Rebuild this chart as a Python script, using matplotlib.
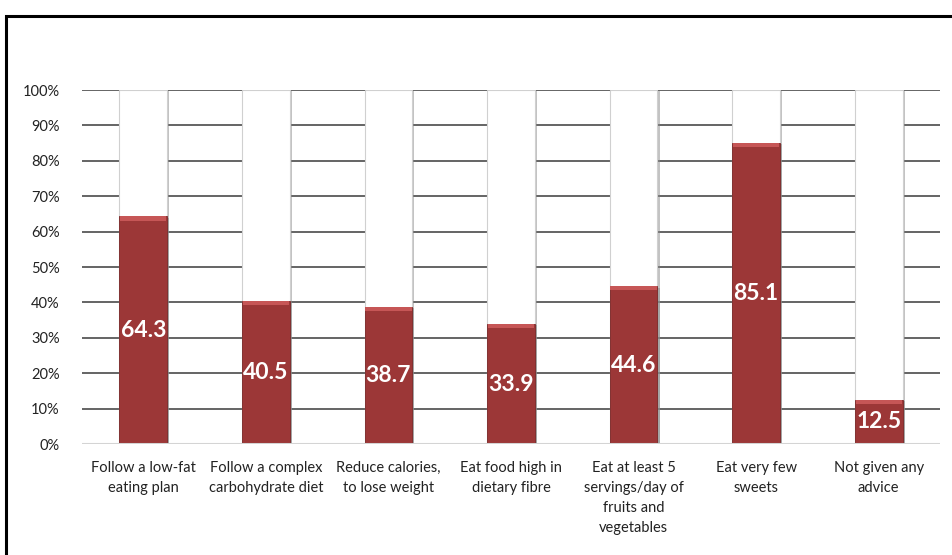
import numpy as np
import matplotlib
matplotlib.use("Agg")
import matplotlib.pyplot as plt
import matplotlib.patheffects as pe
from matplotlib.patches import Rectangle

categories = ["Follow a low-fat\neating plan",
              "Follow a complex\ncarbohydrate diet",
              "Reduce calories,\nto lose weight",
              "Eat food high in\ndietary fibre",
              "Eat at least 5\nservings/day of\nfruits and\nvegetables",
              "Eat very few\nsweets",
              "Not given any\nadvice"]
values = [64.3, 40.5, 38.7, 33.9, 44.6, 85.1, 12.5]
full = [100] * len(values)
yticks = [0, 10, 20, 30, 40, 50, 60, 70, 80, 90, 100]

plt.rcParams['font.family'] = ['Lato', 'DejaVu Sans']

fig = plt.figure(figsize=(9.52, 5.55), dpi=100)
ax = fig.add_axes([0.0861, 0.2, 0.9013, 0.6378])

x = np.arange(len(values))
w = 0.39

# grid lines behind the bars
for t in yticks[1:]:
    ax.axhline(t, color='#3a3a3a', lw=1.1, zorder=0)
ax.axhline(0, color='#d4d4d4', lw=2.2, zorder=5)

shadow = [pe.SimplePatchShadow(offset=(1.5, -1), shadow_rgbFace='#888888', alpha=0.5), pe.Normal()]
ax.bar(x, full, width=w, color='white', edgecolor='#d0d0d0', lw=0.8, zorder=1, path_effects=shadow)
ax.bar(x, values, width=w, color='#9c3737', edgecolor='#7a2525', lw=0.6, zorder=2, path_effects=shadow)
# lighter bevel on the top of each red bar
ax.bar(x, [1.2] * len(values), bottom=np.array(values) - 1.2, width=w * 0.97, color='#c65656', lw=0, zorder=3)

for xi, v in zip(x, values):
    ax.text(xi, v / 2, f"{v:.1f}", ha='center', va='center', color='white',
            fontsize=16.5, fontweight='bold', zorder=4)

ax.set_xlim(-0.5, len(values) - 0.5)
ax.set_ylim(0, 100)
ax.set_yticks(yticks)
ax.set_yticklabels([f"{t}%" for t in yticks], fontsize=10.5, color='#222222')
ax.set_xticks(x)
ax.set_xticklabels(categories, fontsize=10.5, color='#222222', linespacing=1.55, va='top')
ax.tick_params(axis='both', length=0)
ax.tick_params(axis='y', pad=16)
ax.tick_params(axis='x', pad=12)
for s in ax.spines.values():
    s.set_visible(False)

# outer frame of the figure box, running off the right and bottom edges
fig.patches.append(Rectangle((6 / 952, -0.1), 1.2, 1.1 - 16 / 555, transform=fig.transFigure,
                             fill=False, edgecolor='black', lw=2.2, clip_on=False))

fig.savefig("out.png", dpi=100)
